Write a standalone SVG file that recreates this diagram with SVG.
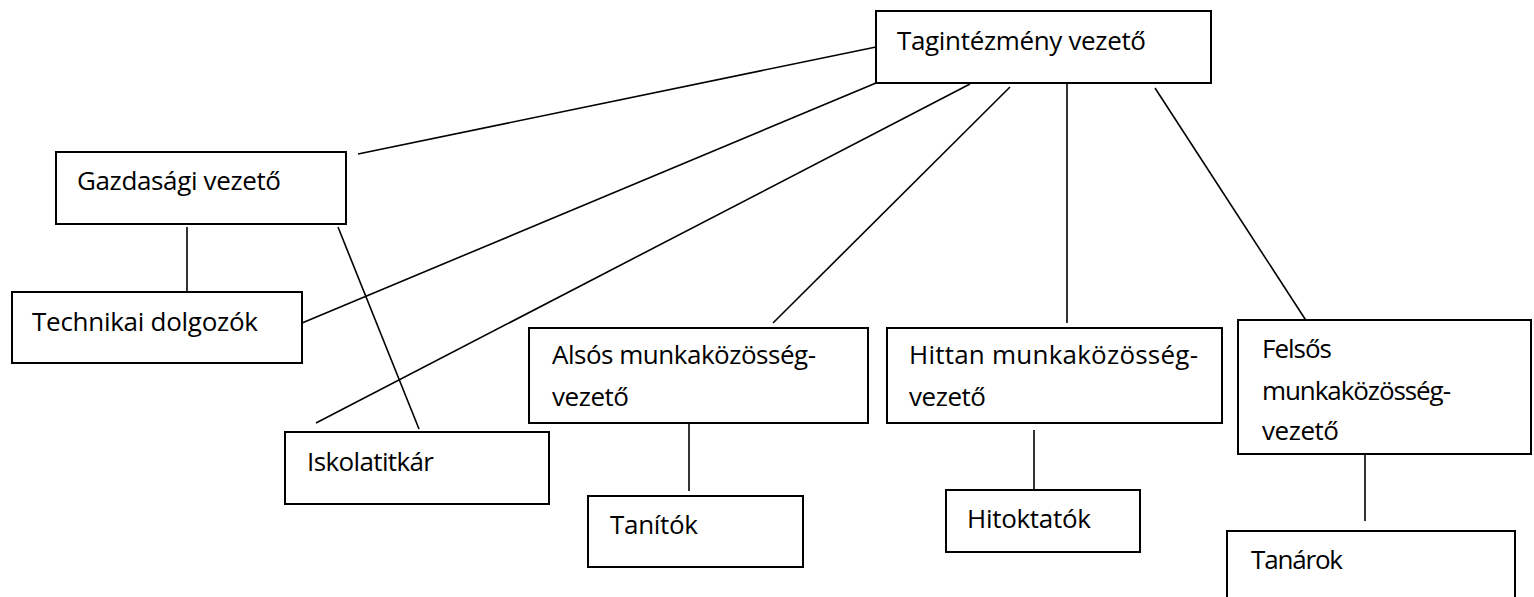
<svg xmlns="http://www.w3.org/2000/svg" width="1534" height="597" viewBox="0 0 1534 597">
<style>
.box{fill:#fff;stroke:#000;stroke-width:2}
.lbl{font-family:"Open Sans","Noto Sans",sans-serif;font-size:26px;fill:#000}
.con line{stroke:#000;stroke-width:1.6}
</style>
<rect width="1534" height="597" fill="#fff"/>
<g class="con" id="connectors">
<line x1="876" y1="47" x2="358" y2="154"/>
<line x1="876" y1="83" x2="302" y2="323"/>
<line x1="970" y1="84" x2="316" y2="423"/>
<line x1="1010" y1="87" x2="773" y2="323"/>
<line x1="1067" y1="83" x2="1067" y2="323"/>
<line x1="1155" y1="88" x2="1307" y2="322"/>
<line x1="187" y1="227" x2="187" y2="292"/>
<line x1="338" y1="227" x2="419" y2="429"/>
<line x1="689" y1="420" x2="689" y2="491"/>
<line x1="1034" y1="430" x2="1034" y2="489"/>
<line x1="1365" y1="449" x2="1365" y2="521"/>
</g>
<g id="tagintezmeny">
<rect class="box" x="876" y="11" width="335" height="72"/>
<text class="lbl" x="897" y="50" textLength="249">Tagintézmény vezető</text>
</g>
<g id="gazdasagi">
<rect class="box" x="56" y="152" width="290" height="72"/>
<text class="lbl" x="77" y="190" textLength="204">Gazdasági vezető</text>
</g>
<g id="technikai">
<rect class="box" x="12" y="292" width="290" height="71"/>
<text class="lbl" x="32" y="331" textLength="226">Technikai dolgozók</text>
</g>
<g id="iskolatitkar">
<rect class="box" x="285" y="432" width="264" height="72"/>
<text class="lbl" x="307" y="471" textLength="127">Iskolatitkár</text>
</g>
<g id="alsos">
<rect class="box" x="529" y="328" width="339" height="95"/>
<text class="lbl" x="552" y="364" textLength="264">Alsós munkaközösség-</text>
<text class="lbl" x="552" y="406" textLength="77">vezető</text>
</g>
<g id="hittan">
<rect class="box" x="887" y="328" width="335" height="95"/>
<text class="lbl" x="909" y="364" textLength="289">Hittan munkaközösség-</text>
<text class="lbl" x="909" y="406" textLength="77">vezető</text>
</g>
<g id="felsos">
<rect class="box" x="1238" y="320" width="293" height="134"/>
<text class="lbl" x="1262" y="358" textLength="70">Felsős</text>
<text class="lbl" x="1262" y="400" textLength="189">munkaközösség-</text>
<text class="lbl" x="1262" y="440" textLength="77">vezető</text>
</g>
<g id="tanitok">
<rect class="box" x="588" y="496" width="215" height="71"/>
<text class="lbl" x="610" y="534" textLength="88">Tanítók</text>
</g>
<g id="hitoktatok">
<rect class="box" x="946" y="490" width="194" height="62"/>
<text class="lbl" x="967" y="528" textLength="124">Hitoktatók</text>
</g>
<g id="tanarok">
<rect class="box" x="1227" y="531" width="288" height="80"/>
<text class="lbl" x="1251" y="569" textLength="92">Tanárok</text>
</g>
</svg>
